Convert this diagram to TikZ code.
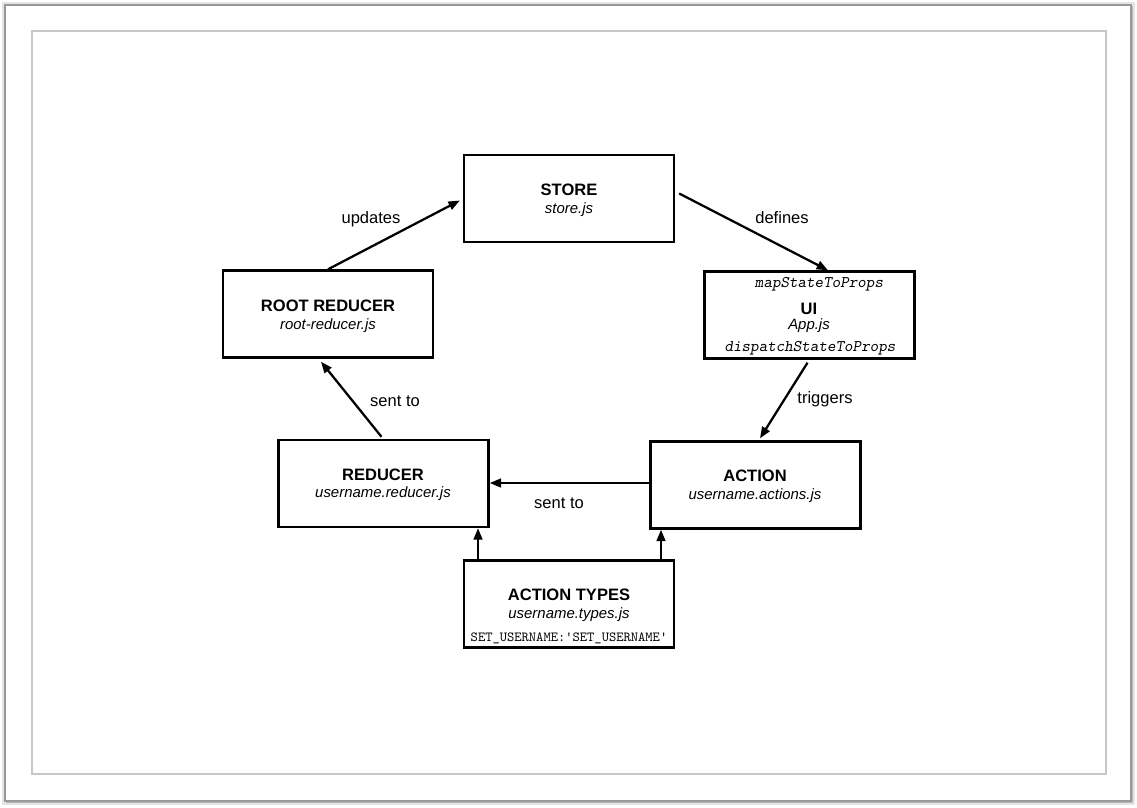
\documentclass[tikz,border=0pt]{standalone}
\usepackage{fontspec}
\setmainfont{Liberation Sans}
\setmonofont{Latin Modern Mono}[SlantedFont={Latin Modern Mono Slanted}]
\usetikzlibrary{arrows.meta,calc}
\begin{document}
\begin{tikzpicture}[x=0.75pt,y=-0.75pt,
  box/.style={draw=black,line width=1.8pt,fill=white,minimum width=157.5pt,minimum height=65.25pt,inner sep=0pt},
  ttl/.style={font=\fontsize{12.4}{14}\selectfont\bfseries,inner sep=0pt},
  sub/.style={font=\fontsize{11.2}{13}\selectfont\itshape,inner sep=0pt},
  lbl/.style={font=\fontsize{12.4}{14}\selectfont,inner sep=0pt},
  code/.style={font=\fontsize{12.2}{14}\selectfont\ttfamily\slshape,inner sep=0pt},
  conn/.style={line width=1.7pt,-{Triangle[length=8.5pt,width=6.5pt]}}]
\useasboundingbox (0,0) rectangle (1137,807);
% page frame
\fill[black!10] (2,2) rectangle (1135,805);
\fill[black!28] (6,6) rectangle (1133,803);
\filldraw[fill=white,draw=black!40,line width=0.8pt] (5,5) rectangle (1131,801);
\draw[black!22,line width=0.9pt] (32,31) rectangle (1106,774);
% boxes
\node[box] (store) at (569,198.5) {};
\node[box] (rootred) at (328,314) {};
\node[box] (ui) at (809.5,315) {};
\node[box] (reducer) at (383.5,483.5) {};
\node[box] (action) at (755.5,485) {};
\node[box] (types) at (569,604) {};
% texts
\node[ttl] (storeT) at (569,190) {STORE};
\node[sub] (storeS) at (569,210) {store.js};
\node[ttl] (rootT) at (328,306) {ROOT REDUCER};
\node[sub] (rootS) at (328,326) {root-reducer.js};
\node[code] (uiA) at (819,284) {mapStateToProps};
\node[ttl] (uiT) at (809,309) {UI};
\node[sub] (uiS) at (809,326) {App.js};
\node[code] (uiB) at (810,348) {dispatchStateToProps};
\node[ttl] (redT) at (383,475) {REDUCER};
\node[sub] (redS) at (383,494) {username.reducer.js};
\node[ttl] (actT) at (755,476) {ACTION};
\node[sub] (actS) at (755,496) {username.actions.js};
\node[ttl] (typT) at (569,595) {ACTION TYPES};
\node[sub] (typS) at (569,615) {username.types.js};
\node[code,font=\fontsize{10.4}{12}\selectfont\ttfamily] (typC) at (569,638) {SET\_USERNAME:'SET\_USERNAME'};
% connectors
\coordinate (tl) at (478,0);
\coordinate (tr) at (661,0);
\draw[conn] (rootred.north) -- ($(store.west)+(-3,2)$);
\draw[conn] ($(store.east)+(4,-5)$) -- ($(ui.north)+(18.5,0)$);
\draw[conn] ($(ui.south)+(-2,3)$) -- ($(action.north)+(4.5,-2)$);
\draw[conn] (action.west |- 0,483) -- (reducer.east |- 0,483);
\draw[conn] ($(reducer.north)+(-2,-2)$) -- ($(rootred.south)+(-7,3)$);
\draw[conn] (types.north -| tl) -- (reducer.south -| tl);
\draw[conn] (types.north -| tr) -- (action.south -| tr);
% labels
\node[lbl] (l1) at (371,219) {updates};
\node[lbl] (l2) at (782,218) {defines};
\node[lbl] (l3) at (825,399) {triggers};
\node[lbl] (l4) at (559,503) {sent to};
\node[lbl] (l5) at (395,401) {sent to};
\end{tikzpicture}
\end{document}
